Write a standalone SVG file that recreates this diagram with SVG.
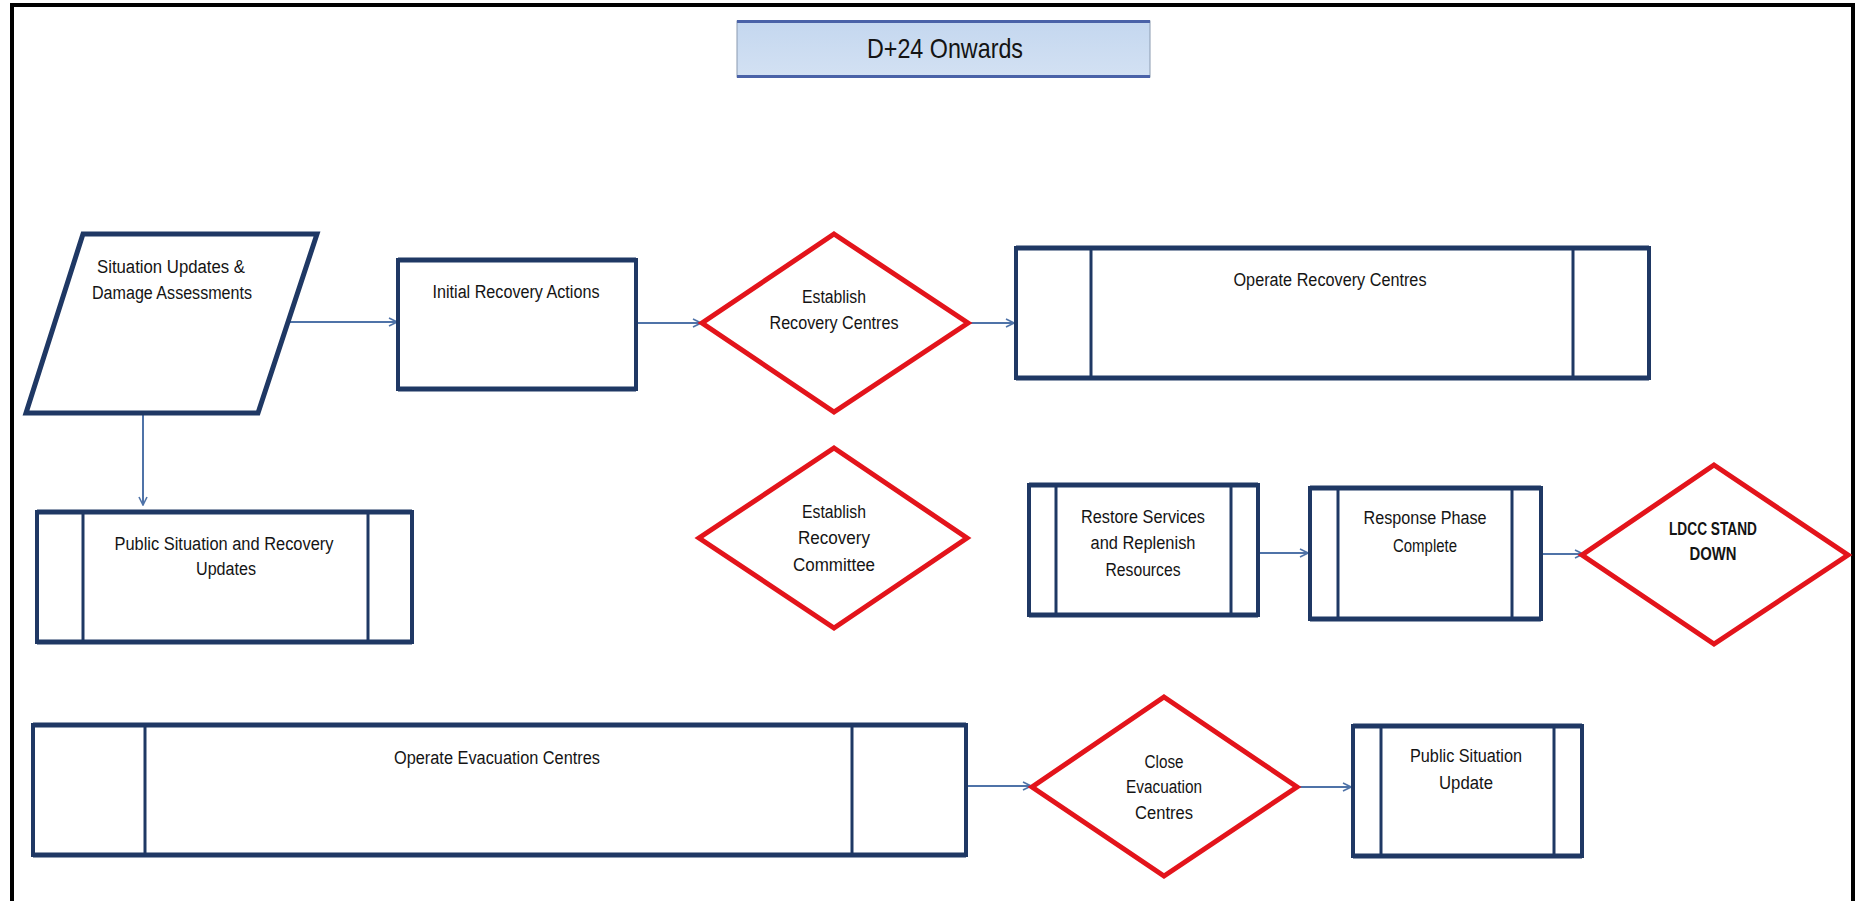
<svg xmlns="http://www.w3.org/2000/svg" width="1856" height="901" viewBox="0 0 1856 901">
<defs>
<marker id="arr" viewBox="0 0 10 10" refX="9" refY="5" markerWidth="10" markerHeight="10" markerUnits="userSpaceOnUse" orient="auto">
<path d="M1,1 L9,5 L1,9" fill="none" stroke="#4f73a8" stroke-width="1.6"/>
</marker>
<linearGradient id="tg" x1="0" y1="0" x2="0" y2="1">
<stop offset="0" stop-color="#c4d7ef"/>
<stop offset="1" stop-color="#d3e1f3"/>
</linearGradient>
</defs>
<style>
.t{font-family:"Liberation Sans",Arial,sans-serif;font-size:18px;fill:#141414;text-anchor:middle}
.b{font-weight:bold}
.box{fill:#fff;stroke:#1f3864;stroke-width:4}
.tb{fill:none;stroke:#1f3864;stroke-width:5}
.in{fill:none;stroke:#1f3864;stroke-width:3}
.dia{fill:#fff;stroke:#e3141b;stroke-width:5;stroke-linejoin:miter}
.con{fill:none;stroke:#4f73a8;stroke-width:2;marker-end:url(#arr)}
</style>
<rect width="1856" height="901" fill="#fff"/>
<path d="M12,905 L12,5 L1853,5 L1853,905" fill="none" stroke="#000" stroke-width="4"/>

<g id="title">
<rect x="737" y="21" width="413" height="56" fill="url(#tg)" stroke="#8a9ab0" stroke-width="1"/>
<line x1="737" y1="21.5" x2="1150" y2="21.5" stroke="#4a62a8" stroke-width="3"/>
<line x1="737" y1="76.5" x2="1150" y2="76.5" stroke="#4a62a8" stroke-width="3"/>
<text class="t" x="945" y="58" style="font-size:28px" textLength="156" lengthAdjust="spacingAndGlyphs">D+24 Onwards</text>
</g>

<g id="connectors">
<line class="con" x1="290" y1="322" x2="397" y2="322"/>
<line class="con" x1="636" y1="323" x2="701" y2="323"/>
<line class="con" x1="968" y1="323" x2="1014" y2="323"/>
<line class="con" x1="143" y1="413" x2="143" y2="505"/>
<line class="con" x1="1258" y1="553" x2="1308" y2="553"/>
<line class="con" x1="1541" y1="554" x2="1583" y2="554"/>
<line class="con" x1="966" y1="786" x2="1031" y2="786"/>
<line class="con" x1="1297" y1="787" x2="1351" y2="787"/>
</g>

<g id="situation">
<polygon points="83,234 317,234 258,413 26,413" fill="#fff" stroke="#1f3864" stroke-width="5"/>
<text class="t" x="171" y="273" textLength="148" lengthAdjust="spacingAndGlyphs">Situation Updates &amp;</text>
<text class="t" x="172" y="299" textLength="160" lengthAdjust="spacingAndGlyphs">Damage Assessments</text>
</g>

<g id="initial">
<rect class="box" x="398" y="260" width="238" height="129"/>
<line class="tb" x1="398" y1="260" x2="636" y2="260"/>
<line class="tb" x1="398" y1="389" x2="636" y2="389"/>
<text class="t" x="516" y="298" textLength="167" lengthAdjust="spacingAndGlyphs">Initial Recovery Actions</text>
</g>

<g id="establish-centres">
<polygon class="dia" points="834,234 968,323 834,412 702,323"/>
<text class="t" x="834" y="303" textLength="64" lengthAdjust="spacingAndGlyphs">Establish</text>
<text class="t" x="834" y="329" textLength="129" lengthAdjust="spacingAndGlyphs">Recovery Centres</text>
</g>

<g id="operate-recovery">
<rect class="box" x="1016" y="248" width="633" height="130"/>
<line class="tb" x1="1016" y1="248" x2="1649" y2="248"/>
<line class="tb" x1="1016" y1="378" x2="1649" y2="378"/>
<line class="in" x1="1091" y1="248" x2="1091" y2="378"/>
<line class="in" x1="1573" y1="248" x2="1573" y2="378"/>
<text class="t" x="1330" y="286" textLength="193" lengthAdjust="spacingAndGlyphs">Operate Recovery Centres</text>
</g>

<g id="public-recovery">
<rect class="box" x="37" y="512" width="375" height="130"/>
<line class="tb" x1="37" y1="512" x2="412" y2="512"/>
<line class="tb" x1="37" y1="642" x2="412" y2="642"/>
<line class="in" x1="83" y1="512" x2="83" y2="642"/>
<line class="in" x1="368" y1="512" x2="368" y2="642"/>
<text class="t" x="224" y="550" textLength="219" lengthAdjust="spacingAndGlyphs">Public Situation and Recovery</text>
<text class="t" x="226" y="575" textLength="60" lengthAdjust="spacingAndGlyphs">Updates</text>
</g>

<g id="establish-committee">
<polygon class="dia" points="834,448 967,538 834,628 699,538"/>
<text class="t" x="834" y="518" textLength="64" lengthAdjust="spacingAndGlyphs">Establish</text>
<text class="t" x="834" y="544" textLength="72" lengthAdjust="spacingAndGlyphs">Recovery</text>
<text class="t" x="834" y="571" textLength="82" lengthAdjust="spacingAndGlyphs">Committee</text>
</g>

<g id="restore">
<rect class="box" x="1029" y="485" width="229" height="130"/>
<line class="tb" x1="1029" y1="485" x2="1258" y2="485"/>
<line class="tb" x1="1029" y1="615" x2="1258" y2="615"/>
<line class="in" x1="1056" y1="485" x2="1056" y2="615"/>
<line class="in" x1="1231" y1="485" x2="1231" y2="615"/>
<text class="t" x="1143" y="523" textLength="124" lengthAdjust="spacingAndGlyphs">Restore Services</text>
<text class="t" x="1143" y="549" textLength="105" lengthAdjust="spacingAndGlyphs">and Replenish</text>
<text class="t" x="1143" y="576" textLength="75" lengthAdjust="spacingAndGlyphs">Resources</text>
</g>

<g id="response">
<rect class="box" x="1310" y="488" width="231" height="131"/>
<line class="tb" x1="1310" y1="488" x2="1541" y2="488"/>
<line class="tb" x1="1310" y1="619" x2="1541" y2="619"/>
<line class="in" x1="1338" y1="488" x2="1338" y2="619"/>
<line class="in" x1="1512" y1="488" x2="1512" y2="619"/>
<text class="t" x="1425" y="524" textLength="123" lengthAdjust="spacingAndGlyphs">Response Phase</text>
<text class="t" x="1425" y="552" textLength="64" lengthAdjust="spacingAndGlyphs">Complete</text>
</g>

<g id="ldcc">
<polygon class="dia" points="1714,465 1848,555 1714,644 1582,555"/>
<text class="t b" x="1713" y="535" textLength="88" lengthAdjust="spacingAndGlyphs">LDCC STAND</text>
<text class="t b" x="1713" y="560" textLength="47" lengthAdjust="spacingAndGlyphs">DOWN</text>
</g>

<g id="operate-evacuation">
<rect class="box" x="33" y="725" width="933" height="130"/>
<line class="tb" x1="33" y1="725" x2="966" y2="725"/>
<line class="tb" x1="33" y1="855" x2="966" y2="855"/>
<line class="in" x1="145" y1="725" x2="145" y2="855"/>
<line class="in" x1="852" y1="725" x2="852" y2="855"/>
<text class="t" x="497" y="764" textLength="206" lengthAdjust="spacingAndGlyphs">Operate Evacuation  Centres</text>
</g>

<g id="close-evacuation">
<polygon class="dia" points="1164,697 1297,787 1164,876 1032,787"/>
<text class="t" x="1164" y="768" textLength="39" lengthAdjust="spacingAndGlyphs">Close</text>
<text class="t" x="1164" y="793" textLength="76" lengthAdjust="spacingAndGlyphs">Evacuation</text>
<text class="t" x="1164" y="819" textLength="58" lengthAdjust="spacingAndGlyphs">Centres</text>
</g>

<g id="public-update">
<rect class="box" x="1353" y="726" width="229" height="130"/>
<line class="tb" x1="1353" y1="726" x2="1582" y2="726"/>
<line class="tb" x1="1353" y1="856" x2="1582" y2="856"/>
<line class="in" x1="1381" y1="726" x2="1381" y2="856"/>
<line class="in" x1="1554" y1="726" x2="1554" y2="856"/>
<text class="t" x="1466" y="762" textLength="112" lengthAdjust="spacingAndGlyphs">Public Situation</text>
<text class="t" x="1466" y="789" textLength="54" lengthAdjust="spacingAndGlyphs">Update</text>
</g>
</svg>
